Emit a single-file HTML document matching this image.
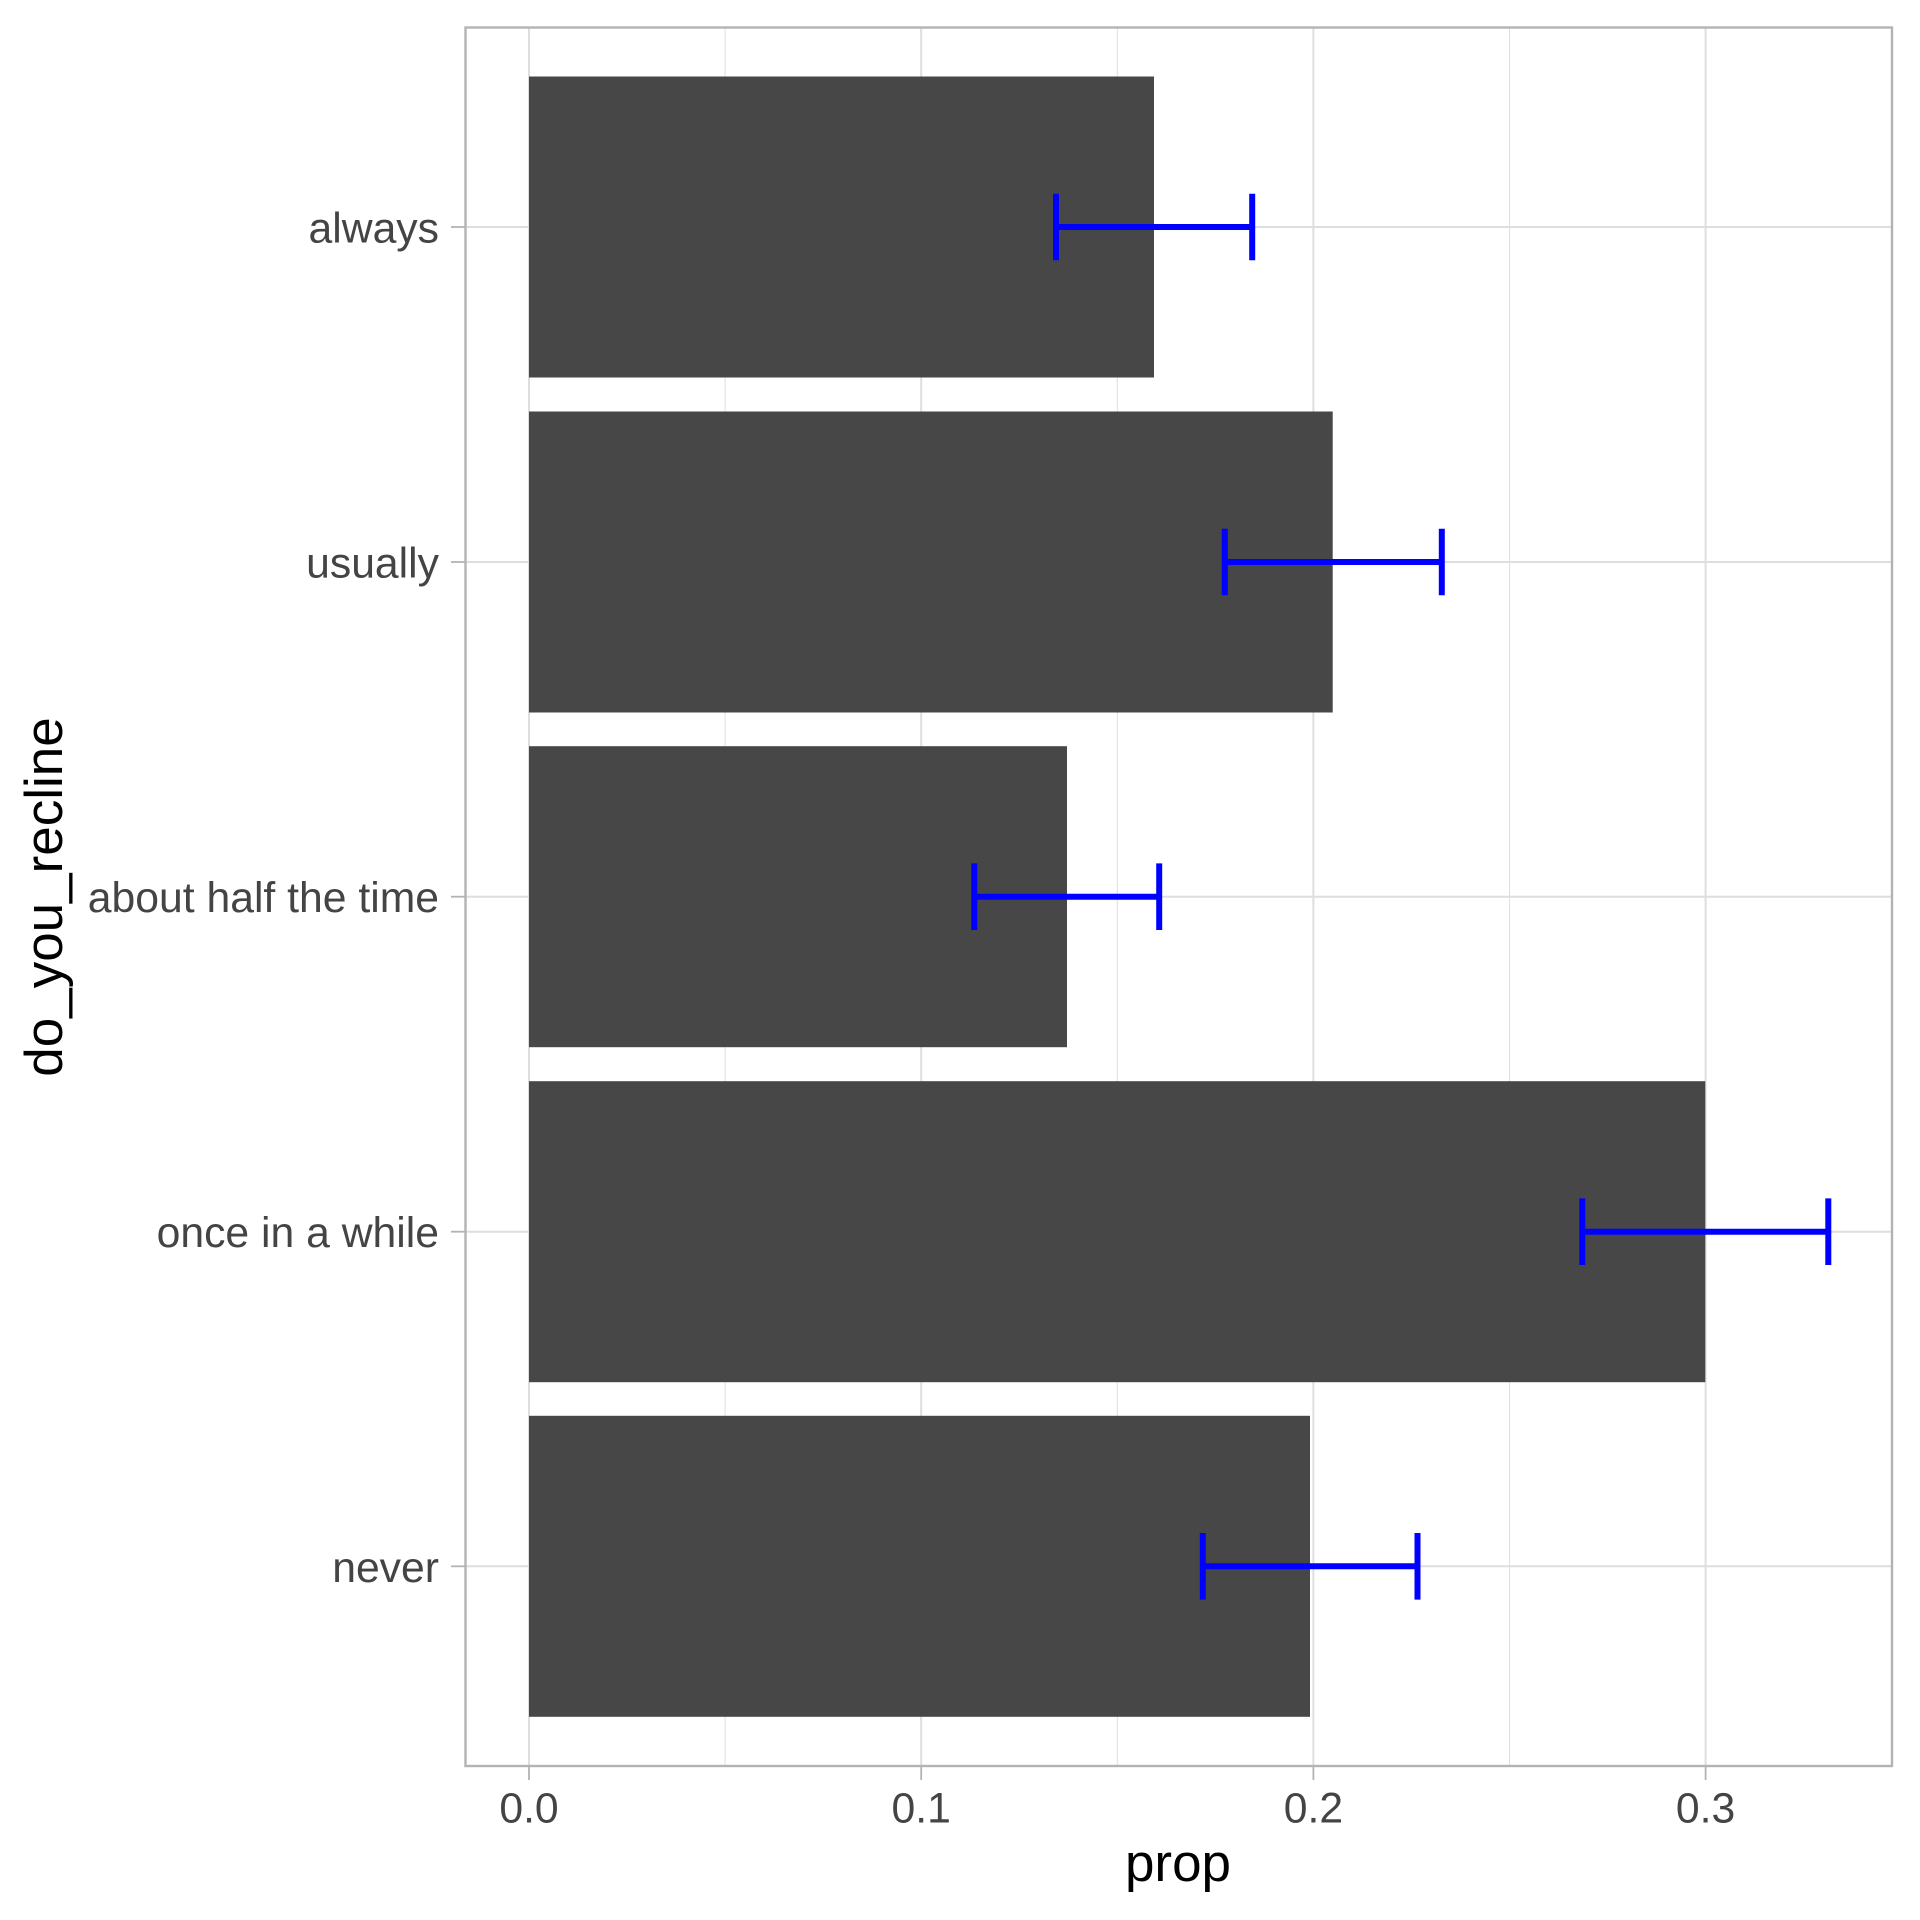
<!DOCTYPE html>
<html>
<head>
<meta charset="utf-8">
<style>
  html, body { margin: 0; padding: 0; background: #ffffff; }
  svg { display: block; }
  text { font-family: "Liberation Sans", Arial, Helvetica, sans-serif; }
</style>
</head>
<body>
<svg width="1920" height="1920" viewBox="0 0 1920 1920" xmlns="http://www.w3.org/2000/svg">
  <rect x="0" y="0" width="1920" height="1920" fill="#ffffff"/>

  <!-- minor vertical grid -->
  <g stroke="#dedede" stroke-width="1">
    <line x1="725.1" y1="27.5" x2="725.1" y2="1766"/>
    <line x1="1117.3" y1="27.5" x2="1117.3" y2="1766"/>
    <line x1="1509.5" y1="27.5" x2="1509.5" y2="1766"/>
  </g>
  <!-- major grid -->
  <g stroke="#dedede" stroke-width="2">
    <line x1="529" y1="27.5" x2="529" y2="1766"/>
    <line x1="921.2" y1="27.5" x2="921.2" y2="1766"/>
    <line x1="1313.4" y1="27.5" x2="1313.4" y2="1766"/>
    <line x1="1705.6" y1="27.5" x2="1705.6" y2="1766"/>
    <line x1="465.5" y1="227" x2="1891.5" y2="227"/>
    <line x1="465.5" y1="562" x2="1891.5" y2="562"/>
    <line x1="465.5" y1="896.7" x2="1891.5" y2="896.7"/>
    <line x1="465.5" y1="1231.7" x2="1891.5" y2="1231.7"/>
    <line x1="465.5" y1="1566.3" x2="1891.5" y2="1566.3"/>
  </g>

  <!-- bars -->
  <g fill="#474747">
    <rect x="529" y="76.5" width="625" height="301"/>
    <rect x="529" y="411.5" width="803.7" height="301"/>
    <rect x="529" y="746.2" width="538" height="301"/>
    <rect x="529" y="1081.2" width="1176.3" height="301"/>
    <rect x="529" y="1415.8" width="781" height="301"/>
  </g>

  <!-- error bars -->
  <g stroke="#0000ff" stroke-width="6" fill="none">
    <line x1="1056" y1="227" x2="1252.2" y2="227"/>
    <line x1="1056" y1="193.7" x2="1056" y2="260.3"/>
    <line x1="1252.2" y1="193.7" x2="1252.2" y2="260.3"/>

    <line x1="1224.8" y1="562" x2="1441.8" y2="562"/>
    <line x1="1224.8" y1="528.7" x2="1224.8" y2="595.3"/>
    <line x1="1441.8" y1="528.7" x2="1441.8" y2="595.3"/>

    <line x1="974.3" y1="896.7" x2="1159.2" y2="896.7"/>
    <line x1="974.3" y1="863.4" x2="974.3" y2="930"/>
    <line x1="1159.2" y1="863.4" x2="1159.2" y2="930"/>

    <line x1="1582.3" y1="1231.7" x2="1828.3" y2="1231.7"/>
    <line x1="1582.3" y1="1198.4" x2="1582.3" y2="1265"/>
    <line x1="1828.3" y1="1198.4" x2="1828.3" y2="1265"/>

    <line x1="1202.8" y1="1566.3" x2="1417.5" y2="1566.3"/>
    <line x1="1202.8" y1="1533" x2="1202.8" y2="1599.6"/>
    <line x1="1417.5" y1="1533" x2="1417.5" y2="1599.6"/>
  </g>

  <!-- panel border -->
  <rect x="465.5" y="27.5" width="1426.5" height="1738.5" fill="none" stroke="#b3b3b3" stroke-width="2.4"/>

  <!-- ticks -->
  <g stroke="#b3b3b3" stroke-width="1.8">
    <line x1="451" y1="227" x2="465" y2="227"/>
    <line x1="451" y1="562" x2="465" y2="562"/>
    <line x1="451" y1="896.7" x2="465" y2="896.7"/>
    <line x1="451" y1="1231.7" x2="465" y2="1231.7"/>
    <line x1="451" y1="1566.3" x2="465" y2="1566.3"/>
    <line x1="529" y1="1767" x2="529" y2="1780"/>
    <line x1="921.2" y1="1767" x2="921.2" y2="1780"/>
    <line x1="1313.4" y1="1767" x2="1313.4" y2="1780"/>
    <line x1="1705.6" y1="1767" x2="1705.6" y2="1780"/>
  </g>

  <!-- y tick labels -->
  <g fill="#444444" font-size="42.7" text-anchor="end">
    <text x="439" y="242.5">always</text>
    <text x="439" y="577.5">usually</text>
    <text x="439" y="912.2">about half the time</text>
    <text x="439" y="1247.2">once in a while</text>
    <text x="439" y="1581.8">never</text>
  </g>

  <!-- x tick labels -->
  <g fill="#444444" font-size="42.7" text-anchor="middle">
    <text x="529" y="1822.3">0.0</text>
    <text x="921.2" y="1822.3">0.1</text>
    <text x="1313.4" y="1822.3">0.2</text>
    <text x="1705.6" y="1822.3">0.3</text>
  </g>

  <!-- axis titles -->
  <text x="1178" y="1881" font-size="53" fill="#000000" text-anchor="middle">prop</text>
  <text transform="translate(62,897) rotate(-90)" x="0" y="0" font-size="53" fill="#000000" text-anchor="middle">do_you_recline</text>
</svg>
</body>
</html>
